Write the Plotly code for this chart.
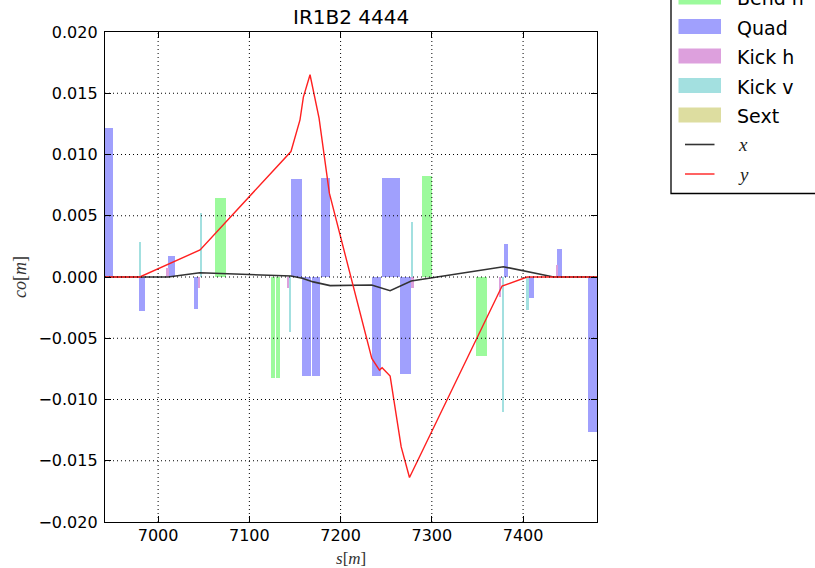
import plotly.graph_objects as go

# ---- lattice elements: start position [m], length [m], strength (drawn as bar height) ----
bend_s = [7062.6, 7123.4, 7129.2, 7289.4, 7295.0, 7348.7]
bend_len = [11.7, 5.1, 4.7, 5.2, 4.7, 11.7]
bend_val = [0.00648, -0.00823, -0.00823, 0.00825, 0.00825, -0.00646]

quad_s = [6938.0, 6979.6, 7011.0, 7038.8, 7145.6, 7158.1, 7168.7, 7178.2,
          7234.2, 7245.6, 7255.7, 7265.6, 7378.7, 7406.5, 7437.6, 7470.9]
quad_len = [12.6, 5.8, 7.3, 5.1, 11.8, 9.5, 8.8, 10.3,
            10.2, 9.1, 9.6, 11.8, 5.1, 5.1, 5.5, 12.0]
quad_val = [0.01215, -0.00278, 0.00172, -0.00262, 0.00798, -0.00806, -0.00806, 0.00807,
            -0.00806, 0.00807, 0.00807, -0.00795, 0.00267, -0.00169, 0.00231, -0.01264]

kickh_s = [7009.5, 7044.0, 7142.0, 7278.0, 7374.3, 7436.6]
kickh_len = [2.0, 2.0, 1.8, 2.0, 2.0, 2.0]
kickh_val = [0.0007, -0.00093, -0.0009, -0.00087, -0.0016, 0.00098]

kickv_s = [6979.0, 7045.8, 7143.5, 7277.0, 7377.0, 7403.6]
kickv_len = [2.2, 2.2, 2.2, 2.2, 1.8, 2.5]
kickv_val = [0.00289, 0.00526, -0.00447, 0.0045, -0.01106, -0.0027]

sext_s = []
sext_len = []
sext_val = []

# ---- closed orbit ----
orbit_x_s = [6940.0, 7011.0, 7045.7, 7100.0, 7145.6, 7158.0, 7170.0, 7188.5,
             7234.0, 7254.3, 7277.4, 7378.4, 7433.5, 7482.0]
orbit_x = [0.0, 0.0, 0.00035, 0.00022, 0.00008, -0.0001, -0.0004, -0.0007,
           -0.00065, -0.00112, -0.00033, 0.00084, 0.0, 0.0]

orbit_y_s = [6940.0, 6979.9, 7046.0, 7145.6, 7155.5, 7159.2, 7166.5, 7176.4, 7187.7,
             7234.2, 7242.6, 7245.5, 7254.3, 7266.4, 7275.5, 7377.0, 7404.4, 7482.0]
orbit_y = [0.0, 0.0, 0.00221, 0.01024, 0.01283, 0.01469, 0.01651, 0.01297, 0.00684,
           -0.00665, -0.0076, -0.00741, -0.00809, -0.01387, -0.01637, -0.00074, 0.0, 0.0]

x_ticks = [7000, 7100, 7200, 7300, 7400]
y_ticks = [-0.020, -0.015, -0.010, -0.005, 0.0, 0.005, 0.010, 0.015, 0.020]
x_range = [6941.8, 7481.0]
y_range = [-0.02, 0.02]

title = "IR1B2 4444"

# ---- figure geometry ----
W, H = 815, 568
L_M, R_M, T_M, B_M = 105, 218, 32, 46
PW, PH = W - L_M - R_M, H - T_M - B_M


def paper_x(px):
    return (px - L_M) / PW


def paper_y(py):
    return (H - B_M - py) / PH


SANS = "DejaVu Sans"
SERIF = "Liberation Serif"

element_sets = [
    ("Bend h", bend_s, bend_len, bend_val, "#9cfa9c"),
    ("Quad", quad_s, quad_len, quad_val, "#a0a0fd"),
    ("Kick h", kickh_s, kickh_len, kickh_val, "#dda0dd"),
    ("Kick v", kickv_s, kickv_len, kickv_val, "#a3e0e0"),
    ("Sext", sext_s, sext_len, sext_val, "#dddda0"),
]

fig = go.Figure()

for name, s, ln, v, col in element_sets:
    fig.add_trace(go.Bar(
        x=[a + b / 2 for a, b in zip(s, ln)],
        y=v,
        width=ln,
        base=0,
        name=name,
        marker=dict(color=col, line=dict(width=0)),
        showlegend=False,
        hoverinfo="skip",
    ))

orbit_lines = [
    ("<i>x</i>", orbit_x_s, orbit_x, "#333333", 1.6),
    ("<i>y</i>", orbit_y_s, orbit_y, "#ff2020", 1.4),
]
for name, s, v, col, w in orbit_lines:
    fig.add_trace(go.Scatter(
        x=s, y=v, mode="lines", name=name,
        line=dict(color=col, width=w),
        showlegend=False,
    ))

# dotted grid drawn over the bars
shapes = []
for t in x_ticks:
    shapes.append(dict(type="line", xref="x", yref="paper", x0=t, x1=t, y0=0, y1=1,
                       line=dict(color="black", width=1, dash="1px,3px"), layer="above"))
for t in y_ticks[1:-1]:
    shapes.append(dict(type="line", xref="paper", yref="y", x0=0, x1=1, y0=t, y1=t,
                       line=dict(color="black", width=1, dash="1px,3px"), layer="above"))

# legend box outside the axes
annotations = []
shapes.append(dict(type="rect", xref="paper", yref="paper",
                   x0=paper_x(671), x1=paper_x(830), y0=paper_y(193.5), y1=paper_y(-30),
                   line=dict(color="black", width=1.3), fillcolor="white", layer="above"))
row0, step = -3.0, 29.5
for i, (name, s, ln, v, col) in enumerate(element_sets):
    cy = row0 + step * i
    shapes.append(dict(type="rect", xref="paper", yref="paper",
                       x0=paper_x(678.5), x1=paper_x(721), y0=paper_y(cy + 7.5), y1=paper_y(cy - 7.5),
                       line=dict(width=0), fillcolor=col, layer="above"))
    annotations.append(dict(xref="paper", yref="paper", x=paper_x(735), y=paper_y(cy + 1),
                            text=name, showarrow=False, xanchor="left", yanchor="middle",
                            font=dict(family=SANS, size=19, color="black")))
for j, (name, s, v, col, w) in enumerate(orbit_lines):
    cy = row0 + step * (len(element_sets) + j)
    shapes.append(dict(type="line", xref="paper", yref="paper",
                       x0=paper_x(685), x1=paper_x(714.5), y0=paper_y(cy), y1=paper_y(cy),
                       line=dict(color=col, width=w), layer="above"))
    annotations.append(dict(xref="paper", yref="paper", x=paper_x(736), y=paper_y(cy),
                            text=name, showarrow=False, xanchor="left", yanchor="middle",
                            font=dict(family=SERIF, size=19, color="#222222")))

# axis labels and title
annotations.append(dict(xref="paper", yref="paper", x=paper_x(351), y=paper_y(17),
                        text=title, showarrow=False, xanchor="center", yanchor="middle",
                        font=dict(family=SANS, size=20, color="black")))
annotations.append(dict(xref="paper", yref="paper", x=paper_x(351), y=paper_y(558),
                        text="<i>s</i>[<i>m</i>]", showarrow=False, xanchor="center", yanchor="middle",
                        font=dict(family=SERIF, size=17, color="#333333")))
annotations.append(dict(xref="paper", yref="paper", x=paper_x(20), y=paper_y(277),
                        text="<i>co</i>[<i>m</i>]", showarrow=False, xanchor="center", yanchor="middle",
                        textangle=-90,
                        font=dict(family=SERIF, size=18, color="#333333")))

axis_common = dict(
    showgrid=False, zeroline=False,
    showline=True, linecolor="black", linewidth=1.3, mirror="allticks",
    ticks="inside", ticklen=6, tickwidth=1, tickcolor="black",
    tickfont=dict(family=SANS, size=16, color="black"),
)

fig.update_layout(
    width=W, height=H,
    margin=dict(l=L_M, r=R_M, t=T_M, b=B_M, autoexpand=False),
    paper_bgcolor="white", plot_bgcolor="white",
    barmode="overlay", bargap=0,
    showlegend=False,
    shapes=shapes,
    annotations=annotations,
    xaxis=dict(range=x_range, tickvals=x_ticks, ticktext=[str(t) for t in x_ticks],
               ticklabelstandoff=-1, **axis_common),
    yaxis=dict(range=y_range, tickvals=y_ticks, tickformat=".3f",
               ticklabelstandoff=3, **axis_common),
)

fig.write_html("out.html")
